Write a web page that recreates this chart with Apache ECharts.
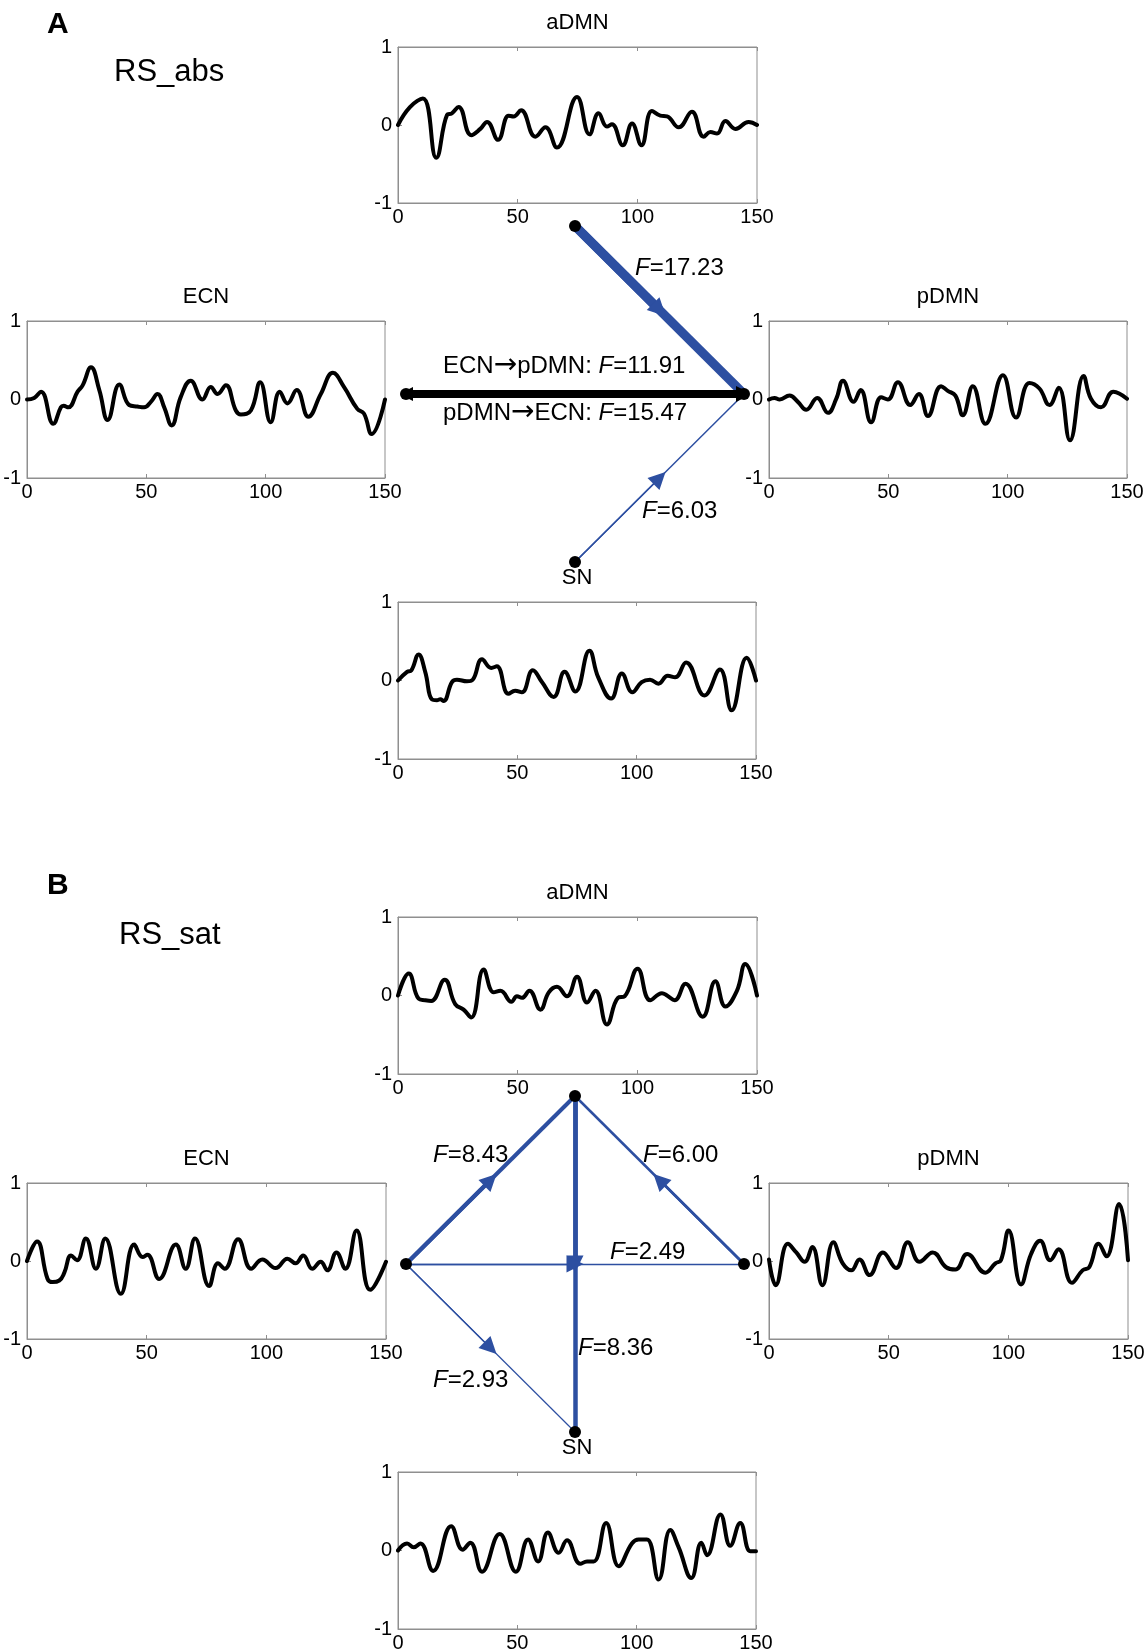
<!DOCTYPE html>
<html><head><meta charset="utf-8">
<script src="https://cdn.jsdelivr.net/npm/echarts@6/dist/echarts.min.js"></script>
<style>html,body{margin:0;padding:0;background:#fff}#c{width:1148px;height:1652px}</style>
</head><body><div id="c"></div>
<script>
// ---------- DATA ----------
const xTicks = [0, 50, 100, 150];
const yTicks = [-1, 0, 1];

// Panel A (RS_abs)
const A_aDMN_t = [0,5,10.4,16,20.5,22.5,25.3,30.6,34.4,37.2,41.8,46.2,48.3,51.4,57.4,61.6,66.4,74.8,80,83.8,87.3,89.4,93.9,97.8,101.7,106.1,109.6,112.4,117.3,122.8,127.7,130.5,133.3,136.8,141,146.5,150];
const A_aDMN_v = [0,0.23,0.34,-0.42,0.13,0.15,0.23,-0.13,-0.05,0.04,-0.19,0.12,0.11,0.19,-0.15,-0.03,-0.29,0.36,-0.12,0.15,-0.02,0.01,-0.26,0.02,-0.26,0.18,0.12,0.11,-0.03,0.17,-0.15,-0.09,-0.11,0.05,-0.05,0.04,0];

const A_ECN_t = [0,3,5.9,11,14.2,15.3,17.3,21.2,23.3,26.8,30.3,33.8,38.7,42.8,46.3,49.1,51.9,54.7,57.5,60.6,64.4,68.6,73.5,77,79.8,83.3,87.5,89.6,93.8,97.7,102.1,105.9,109.1,113,117.9,123.1,128.2,132.8,138.4,141.2,144.4,150];
const A_ECN_v = [0,0.02,0.1,-0.31,-0.1,-0.08,-0.1,0.1,0.18,0.41,0.12,-0.26,0.19,-0.07,-0.09,-0.1,-0.03,0.07,-0.1,-0.33,0.03,0.24,0,0.16,0.07,0.18,-0.14,-0.19,-0.14,0.22,-0.29,0.1,-0.05,0.12,-0.22,0.07,0.34,0.16,-0.12,-0.18,-0.44,0];

const A_pDMN_t = [0,2.3,4.5,8.6,12.1,15.6,20.2,24.7,28.2,31,35.4,38.4,42.8,47,49.8,54,59.2,62.8,66.6,72.1,74.9,78.1,81.2,85.4,90.7,98,103.5,109.1,113.3,117.5,121.4,126.1,131.8,134.9,139.1,144.3,150];
const A_pDMN_v = [0,0.02,0,0.05,-0.03,-0.13,0.02,-0.17,0.01,0.24,-0.03,0.12,-0.29,0.03,0,0.22,-0.07,0.07,-0.21,0.17,0.11,0.05,-0.2,0.17,-0.31,0.31,-0.23,0.21,0.14,-0.07,0.15,-0.52,0.3,0.01,-0.1,0.1,0.01];

const A_SN_t = [0,3.8,5.6,8.6,11.4,14.2,16.3,17.7,19.1,22.6,24.7,28.9,31.3,35.2,39.1,41.4,46.3,49.1,51.9,56.5,60.3,65.2,69.8,74.3,80.2,83.9,89.3,93.8,98.2,102.1,105.6,109.1,113,116.1,120.7,128.4,134.9,139.8,146.1,150];
const A_SN_v = [0,0.11,0.13,0.33,0.11,-0.24,-0.25,-0.24,-0.26,-0.02,0.01,-0.01,0.01,0.27,0.16,0.18,-0.17,-0.13,-0.15,0.13,-0.02,-0.21,0.11,-0.14,0.38,0.04,-0.23,0.09,-0.15,-0.02,0.01,-0.04,0.06,0.04,0.23,-0.19,0.14,-0.38,0.29,0];

// Panel B (RS_sat)
const B_aDMN_t = [0,4.5,8.6,11.4,13.9,19.5,23.9,27.4,30.6,35.8,40,42.8,47.4,49.7,51.8,54.9,59.5,63,66.4,70.6,74.8,79,82.5,87.3,91.9,94.7,100.1,105.4,110.3,112.4,115.6,120.1,127.3,132.6,136.8,141.6,145.1,150];
const B_aDMN_v = [0,0.28,-0.04,-0.06,-0.07,0.2,-0.11,-0.18,-0.28,0.33,0.04,0.06,-0.08,-0.01,-0.03,0.06,-0.18,0.04,0.11,-0.01,0.24,-0.09,0.06,-0.37,-0.03,-0.01,0.34,-0.06,0.03,0,-0.06,0.15,-0.27,0.18,-0.14,0.06,0.4,0];

const B_ECN_t = [0,4.2,8.6,10.7,13.5,15.6,18.4,20.9,24.6,28.8,32.7,39.2,44.8,48.3,50.3,55.2,62.2,66.3,70.2,76.1,79.8,82.6,88.2,93.7,98.3,103.9,108.8,112.2,115.4,119.2,122.7,125.5,129.3,133,137.7,143.4,150];
const B_ECN_v = [0,0.25,-0.23,-0.27,-0.25,-0.15,0.07,0.01,0.29,-0.1,0.29,-0.42,0.21,0.05,0.08,-0.23,0.21,-0.1,0.29,-0.32,-0.03,-0.1,0.28,-0.1,0.02,-0.09,0.03,-0.03,0.07,-0.1,-0.01,-0.12,0.11,-0.1,0.39,-0.37,-0.01];

const B_pDMN_t = [0,2.8,7.9,11.4,14.9,18.1,22.3,26.9,30.8,34.4,37.8,42,47.6,53.1,58,62.9,68.4,74,77.9,82.8,90.4,94.6,96.9,100.1,105.3,109.5,113.3,117.5,121,126.6,131,133.8,137.7,141,146.3,150];
const B_pDMN_v = [0.02,-0.31,0.22,0.11,-0.01,0.18,-0.31,0.24,-0.03,-0.12,0.02,-0.18,0.11,-0.09,0.24,-0.01,0.11,-0.08,-0.11,0.09,-0.15,-0.03,0.01,0.39,-0.3,0.09,0.26,0.01,0.15,-0.28,-0.12,-0.08,0.22,0.06,0.73,0.01];

const B_SN_t = [0,3.8,6.6,9.4,14.7,22.3,27.1,30.3,35.2,42.6,49.4,54.5,58.7,62.8,67.3,70.8,76.4,79.2,82,87.2,92.5,98,100.8,104.3,109.2,114.1,117.6,122.9,127.1,129.5,135.1,139.2,143.4,147.6,150];
const B_SN_v = [0,0.09,0.04,0.09,-0.26,0.31,0.01,0.1,-0.27,0.21,-0.27,0.14,-0.14,0.23,-0.03,0.13,-0.17,-0.14,-0.14,0.35,-0.2,0.09,0.14,0.14,-0.37,0.26,0.04,-0.35,0.1,-0.06,0.46,0.06,0.35,-0.01,-0.01];

// Network (Granger causality) edges
const nodeNames = ['aDMN', 'ECN', 'pDMN', 'SN'];
const A_edgeFrom = ['aDMN', 'SN'];
const A_edgeTo   = ['pDMN', 'pDMN'];
const A_edgeF    = [17.23, 6.03];
const A_biFrom = 'ECN', A_biTo = 'pDMN';
const A_biF = [11.91, 15.47]; // ECN->pDMN, pDMN->ECN

const B_edgeFrom = ['ECN', 'pDMN', 'aDMN', 'ECN', 'ECN'];
const B_edgeTo   = ['aDMN', 'aDMN', 'SN', 'pDMN', 'SN'];
const B_edgeF    = [8.43, 6.00, 8.36, 2.49, 2.93];

// ---------- LAYOUT / STYLE ----------
const FONT = '"Liberation Sans", Arial, Helvetica, sans-serif';
const BLUE = '#2d4fa1';
const BOXC = '#8f8f8f';
const nodePos = { aDMN: [0, 1], ECN: [-1, 0], pDMN: [1, 0], SN: [0, -1] };

const plots = [
  { title: 'aDMN', t: A_aDMN_t, v: A_aDMN_v, box: [398, 47, 359, 156] },
  { title: 'ECN',  t: A_ECN_t,  v: A_ECN_v,  box: [27, 321, 358, 157] },
  { title: 'pDMN', t: A_pDMN_t, v: A_pDMN_v, box: [769, 321, 358, 157] },
  { title: 'SN',   t: A_SN_t,   v: A_SN_v,   box: [398, 602, 358, 157] },
  { title: 'aDMN', t: B_aDMN_t, v: B_aDMN_v, box: [398, 917, 359, 157] },
  { title: 'ECN',  t: B_ECN_t,  v: B_ECN_v,  box: [27, 1183, 359, 156] },
  { title: 'pDMN', t: B_pDMN_t, v: B_pDMN_v, box: [769, 1183, 359, 156] },
  { title: 'SN',   t: B_SN_t,   v: B_SN_v,   box: [398, 1472, 358, 157] }
];
const netBoxes = [[406, 226, 338, 336], [406, 1096, 338, 336]];

const grids = [], xAxes = [], yAxes = [], series = [], graphics = [];

plots.forEach((p, i) => {
  const [l, t, w, h] = p.box;
  grids.push({ left: l, top: t, width: w, height: h, show: true, borderColor: BOXC, borderWidth: 1,
    containLabel: false, outerBoundsMode: 'none' });
  const common = { type: 'value', gridIndex: i, min: xTicks[0], max: xTicks[xTicks.length - 1],
    interval: xTicks[1] - xTicks[0], splitLine: { show: false },
    axisLine: { show: true, onZero: false, lineStyle: { color: BOXC, width: 1 } },
    axisTick: { show: true, inside: true, length: 4, lineStyle: { color: BOXC } } };
  xAxes.push(Object.assign({}, common, { position: 'bottom',
    axisLabel: { show: true, color: '#000', fontSize: 20, fontFamily: FONT, margin: 4, showMinLabel: true, showMaxLabel: true } }));
  xAxes.push(Object.assign({}, common, { position: 'top', axisLabel: { show: false } }));
  yAxes.push({ type: 'value', gridIndex: i, min: yTicks[0], max: yTicks[yTicks.length - 1],
    interval: yTicks[1] - yTicks[0], splitLine: { show: false },
    axisLine: { show: true, onZero: false, lineStyle: { color: BOXC, width: 1 } },
    axisTick: { show: true, inside: true, length: 4, lineStyle: { color: BOXC } },
    axisLabel: { color: '#000', fontSize: 20, fontFamily: FONT, margin: 6, showMinLabel: true, showMaxLabel: true } });
  series.push({ type: 'line', xAxisIndex: 2 * i, yAxisIndex: i, data: p.t.map((x, j) => [x, p.v[j]]),
    smooth: 0.45, symbol: 'none', silent: true, lineStyle: { color: '#000', width: 4, cap: 'round', join: 'round' }, z: 3 });
  graphics.push({ type: 'text', x: l + w / 2, y: t - 24, silent: true,
    style: { text: p.title, fontSize: 22, fontFamily: FONT, fill: '#000', align: 'center', verticalAlign: 'middle' } });
});

netBoxes.forEach((b, k) => {
  grids.push({ left: b[0], top: b[1], width: b[2], height: b[3], show: false, containLabel: false, outerBoundsMode: 'none' });
  xAxes.push({ type: 'value', gridIndex: plots.length + k, min: -1, max: 1, show: false });
  yAxes.push({ type: 'value', gridIndex: plots.length + k, min: -1, max: 1, show: false });
});

function mid(a, b) { return [(a[0] + b[0]) / 2, (a[1] + b[1]) / 2]; }

function addEdge(xi, yi, from, to, width, color, arrowSize) {
  const a = nodePos[from], b = nodePos[to];
  series.push({ type: 'lines', coordinateSystem: 'cartesian2d', xAxisIndex: xi, yAxisIndex: yi, silent: true,
    symbol: ['none', 'none'], lineStyle: { color: color, width: width, opacity: 1, curveness: 0 },
    data: [{ coords: [a, b] }], z: 4, animation: false });
  series.push({ type: 'lines', coordinateSystem: 'cartesian2d', xAxisIndex: xi, yAxisIndex: yi, silent: true,
    symbol: ['none', 'triangle'], symbolSize: arrowSize, lineStyle: { color: color, width: width, opacity: 1, curveness: 0 },
    data: [{ coords: [a, mid(a, b)] }], z: 4, animation: false });
}
function addNodes(xi, yi) {
  series.push({ type: 'scatter', xAxisIndex: xi, yAxisIndex: yi, silent: true, symbolSize: 12,
    itemStyle: { color: '#000', opacity: 1 }, data: nodeNames.map(n => nodePos[n]), z: 6, animation: false });
}

const xiA = 2 * plots.length, yiA = plots.length;
const xiB = xiA + 1, yiB = yiA + 1;

// Panel A network
const A_widths = [9, 1.5], A_arrows = [[15, 18], [13, 17]];
A_edgeFrom.forEach((f, i) => addEdge(xiA, yiA, f, A_edgeTo[i], A_widths[i], BLUE, A_arrows[i]));
series.push({ type: 'lines', coordinateSystem: 'cartesian2d', xAxisIndex: xiA, yAxisIndex: yiA, silent: true,
  symbol: ['triangle', 'triangle'], symbolSize: [14, 16], lineStyle: { color: '#000', width: 8, opacity: 1, curveness: 0 },
  data: [{ coords: [nodePos[A_biFrom], nodePos[A_biTo]] }], z: 4, animation: false });
addNodes(xiA, yiA);

// Panel B network
const B_widths = [4, 2.5, 4.5, 1.4, 1.2], B_arrows = [[14, 17], [14, 17], [14, 17], [14, 17], [14, 17]];
B_edgeFrom.forEach((f, i) => addEdge(xiB, yiB, f, B_edgeTo[i], B_widths[i], BLUE, B_arrows[i]));
addNodes(xiB, yiB);

// annotations
const FS = 24;
const rich = {
  i: { fontStyle: 'italic', fontSize: FS, fontFamily: FONT, fill: '#000' },
  a: { fontSize: 28, fontFamily: '"DejaVu Sans", sans-serif', fill: '#000' }
};
function fLabel(x, y, prefix, val) {
  graphics.push({ type: 'text', x: x, y: y, silent: true,
    style: { text: prefix + '{i|F}=' + val.toFixed(2), rich: rich, fontSize: FS, fontFamily: FONT, fill: '#000',
      align: 'left', verticalAlign: 'middle' } });
}
fLabel(635, 268, '', A_edgeF[0]);
fLabel(642, 511, '', A_edgeF[1]);
fLabel(443, 366, A_biFrom + '{a|→}' + A_biTo + ': ', A_biF[0]);
fLabel(443, 413, A_biTo + '{a|→}' + A_biFrom + ': ', A_biF[1]);
fLabel(433, 1155, '', B_edgeF[0]);
fLabel(643, 1155, '', B_edgeF[1]);
fLabel(578, 1348, '', B_edgeF[2]);
fLabel(610, 1252, '', B_edgeF[3]);
fLabel(433, 1380, '', B_edgeF[4]);

function plainText(x, y, txt, size, weight) {
  graphics.push({ type: 'text', x: x, y: y, silent: true,
    style: { text: txt, fontSize: size, fontWeight: weight || 'normal', fontFamily: FONT, fill: '#000',
      align: 'left', verticalAlign: 'middle' } });
}
plainText(47, 25, 'A', 30, 'bold');
plainText(114, 72, 'RS_abs', 31);
plainText(47, 886, 'B', 30, 'bold');
plainText(119, 935, 'RS_sat', 31);

const chart = echarts.init(document.getElementById('c'), null, { renderer: 'canvas', width: 1148, height: 1652 });
chart.setOption({
  animation: false,
  backgroundColor: '#ffffff',
  grid: grids, xAxis: xAxes, yAxis: yAxes, series: series, graphic: graphics
});
</script></body></html>
